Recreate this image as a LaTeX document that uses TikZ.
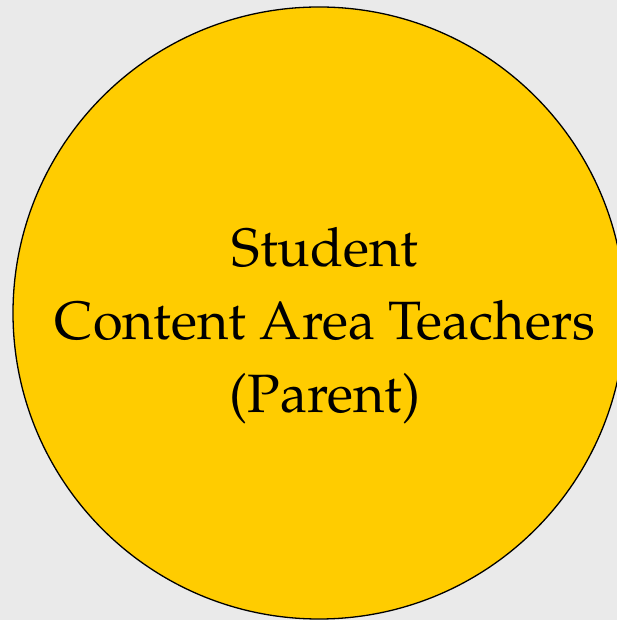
\documentclass[tikz,border=0pt]{standalone}
\usepackage[T1]{fontenc}
\usepackage{mathpazo}
\usepackage{tikz}
\usetikzlibrary{positioning}

\definecolor{bggray}{HTML}{EAEAEA}
\definecolor{gold}{HTML}{FFCC00}

\begin{document}
\begin{tikzpicture}[
            x = 1pt, y = 1pt, % one unit per pixel
            circ/.style = {circle, draw = black, fill = gold, line width = 1.3pt,
                           minimum size = 612pt, inner sep = 0pt}, % the big disc
            label/.style = {align = center, font = \fontsize{54}{73}\selectfont}
        ]

	\fill[bggray] (0,0) rectangle (617,620);
	\useasboundingbox (0,0) rectangle (617,620);

	\node[circ] (S) at (319,307) {};
	\node[label] (T) at (325,294) {Student\\Content Area Teachers\\(Parent)};

\end{tikzpicture}
\end{document}
